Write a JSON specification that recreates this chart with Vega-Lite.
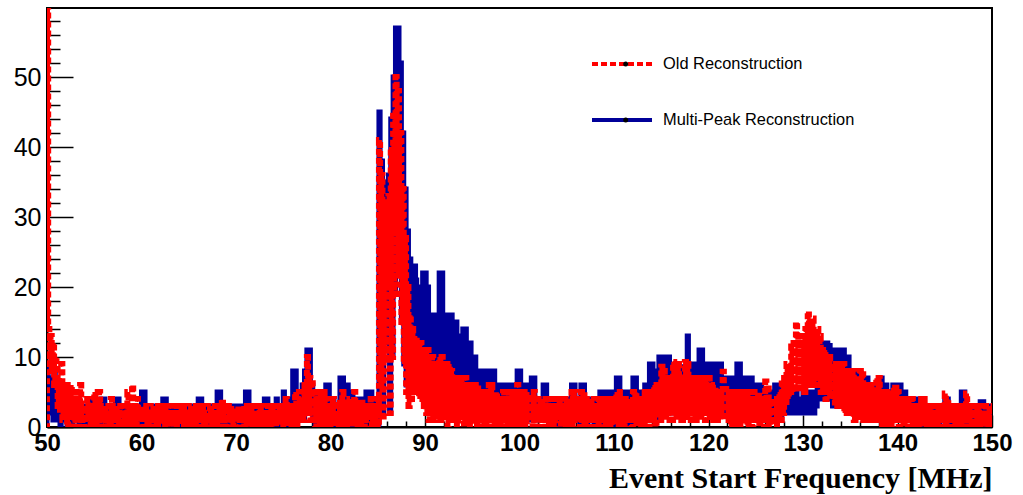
{
  "$schema": "https://vega.github.io/schema/vega-lite/v6.json",
  "width": 945,
  "height": 419,
  "autosize": {"type": "none"},
  "padding": {"left": 47, "top": 8, "right": 31, "bottom": 68},
  "background": "white",
  "config": {
    "view": {"stroke": "#000", "strokeWidth": 2},
    "axis": {"grid": false},
    "legend": {
      "orient": "none",
      "legendY": 36,
      "direction": "vertical",
      "labelFont": "Liberation Sans",
      "labelFontSize": 16.4,
      "labelColor": "#000",
      "labelLimit": 0,
      "rowPadding": 16,
      "clipHeight": 40,
      "padding": 0
    }
  },
  "data": {
    "values": [
      {"f":49.75,"m":0,"o":0},
      {"f":50,"m":9,"o":75},{"f":50.125,"m":4,"o":14},{"f":50.25,"m":7,"o":9},{"f":50.375,"m":2,"o":13},{"f":50.5,"m":6,"o":8},{"f":50.625,"m":1,"o":12},{"f":50.75,"m":8,"o":6},{"f":50.875,"m":3,"o":10},
      {"f":51,"m":5,"o":9},{"f":51.125,"m":1,"o":3},{"f":51.25,"m":6,"o":7},{"f":51.375,"m":0,"o":2},{"f":51.5,"m":4,"o":9},{"f":51.625,"m":2,"o":1},{"f":51.75,"m":5,"o":6},{"f":51.875,"m":1,"o":2},
      {"f":52,"m":4,"o":6},{"f":52.125,"m":0,"o":0},{"f":52.25,"m":5,"o":5},{"f":52.375,"m":1,"o":2},{"f":52.5,"m":3,"o":6},{"f":52.625,"m":0,"o":1},{"f":52.75,"m":4,"o":4},{"f":52.875,"m":1,"o":0},
      {"f":53,"m":3,"o":5},{"f":53.125,"m":1,"o":1},{"f":53.25,"m":4,"o":4},{"f":53.375,"m":0,"o":0},{"f":53.5,"m":3,"o":6},{"f":53.625,"m":1,"o":1},{"f":53.75,"m":3,"o":3},{"f":53.875,"m":0,"o":0},
      {"f":54,"m":3,"o":3},{"f":54.125,"m":0,"o":0},{"f":54.25,"m":2,"o":4},{"f":54.375,"m":1,"o":1},{"f":54.5,"m":4,"o":2},{"f":54.625,"m":0,"o":0},{"f":54.75,"m":3,"o":3},{"f":54.875,"m":1,"o":1},
      {"f":55,"m":2,"o":5},{"f":55.125,"m":0,"o":0},{"f":55.25,"m":3,"o":3},{"f":55.375,"m":1,"o":1},{"f":55.5,"m":2,"o":5},{"f":55.625,"m":0,"o":0},{"f":55.75,"m":4,"o":2},{"f":55.875,"m":1,"o":1},
      {"f":56,"m":4,"o":3},{"f":56.125,"m":1,"o":0},{"f":56.25,"m":3,"o":2},{"f":56.375,"m":0,"o":1},{"f":56.5,"m":3,"o":3},{"f":56.625,"m":1,"o":0},{"f":56.75,"m":2,"o":4},{"f":56.875,"m":0,"o":1},
      {"f":57,"m":3,"o":2},{"f":57.125,"m":0,"o":0},{"f":57.25,"m":4,"o":3},{"f":57.375,"m":1,"o":1},{"f":57.5,"m":4,"o":2},{"f":57.625,"m":0,"o":0},{"f":57.75,"m":3,"o":3},{"f":57.875,"m":1,"o":0},
      {"f":58,"m":3,"o":3},{"f":58.125,"m":0,"o":1},{"f":58.25,"m":2,"o":2},{"f":58.375,"m":1,"o":0},{"f":58.5,"m":3,"o":5},{"f":58.625,"m":0,"o":1},{"f":58.75,"m":3,"o":3},{"f":58.875,"m":1,"o":0},
      {"f":59,"m":3,"o":6},{"f":59.125,"m":1,"o":1},{"f":59.25,"m":2,"o":3},{"f":59.375,"m":0,"o":0},{"f":59.5,"m":3,"o":4},{"f":59.625,"m":1,"o":1},{"f":59.75,"m":2,"o":2},{"f":59.875,"m":0,"o":0},
      {"f":60,"m":5,"o":3},{"f":60.125,"m":1,"o":0},{"f":60.25,"m":5,"o":2},{"f":60.375,"m":0,"o":1},{"f":60.5,"m":3,"o":3},{"f":60.625,"m":1,"o":0},{"f":60.75,"m":3,"o":2},{"f":60.875,"m":0,"o":1},
      {"f":61,"m":3,"o":2},{"f":61.125,"m":0,"o":0},{"f":61.25,"m":3,"o":3},{"f":61.375,"m":1,"o":1},{"f":61.5,"m":2,"o":2},{"f":61.625,"m":0,"o":0},{"f":61.75,"m":3,"o":3},{"f":61.875,"m":1,"o":1},
      {"f":62,"m":2,"o":3},{"f":62.125,"m":0,"o":1},{"f":62.25,"m":4,"o":2},{"f":62.375,"m":1,"o":0},{"f":62.5,"m":4,"o":3},{"f":62.625,"m":0,"o":1},{"f":62.75,"m":3,"o":2},{"f":62.875,"m":1,"o":0},
      {"f":63,"m":3,"o":3},{"f":63.125,"m":1,"o":0},{"f":63.25,"m":2,"o":2},{"f":63.375,"m":0,"o":1},{"f":63.5,"m":3,"o":2},{"f":63.625,"m":1,"o":0},{"f":63.75,"m":3,"o":3},{"f":63.875,"m":0,"o":1},
      {"f":64,"m":2,"o":2},{"f":64.125,"m":0,"o":1},{"f":64.25,"m":3,"o":3},{"f":64.375,"m":1,"o":0},{"f":64.5,"m":3,"o":3},{"f":64.625,"m":0,"o":1},{"f":64.75,"m":2,"o":2},{"f":64.875,"m":1,"o":0},
      {"f":65,"m":3,"o":2},{"f":65.125,"m":1,"o":0},{"f":65.25,"m":3,"o":3},{"f":65.375,"m":0,"o":1},{"f":65.5,"m":3,"o":2},{"f":65.625,"m":1,"o":0},{"f":65.75,"m":3,"o":3},{"f":65.875,"m":0,"o":1},
      {"f":66,"m":4,"o":3},{"f":66.125,"m":1,"o":0},{"f":66.25,"m":4,"o":2},{"f":66.375,"m":0,"o":1},{"f":66.5,"m":3,"o":3},{"f":66.625,"m":1,"o":0},{"f":66.75,"m":2,"o":2},{"f":66.875,"m":0,"o":0},
      {"f":67,"m":3,"o":2},{"f":67.125,"m":0,"o":1},{"f":67.25,"m":3,"o":3},{"f":67.375,"m":1,"o":0},{"f":67.5,"m":3,"o":2},{"f":67.625,"m":0,"o":1},{"f":67.75,"m":3,"o":3},{"f":67.875,"m":1,"o":0},
      {"f":68,"m":5,"o":2},{"f":68.125,"m":1,"o":0},{"f":68.25,"m":5,"o":3},{"f":68.375,"m":0,"o":1},{"f":68.5,"m":3,"o":4},{"f":68.625,"m":1,"o":1},{"f":68.75,"m":2,"o":3},{"f":68.875,"m":0,"o":0},
      {"f":69,"m":3,"o":3},{"f":69.125,"m":0,"o":0},{"f":69.25,"m":3,"o":2},{"f":69.375,"m":1,"o":1},{"f":69.5,"m":2,"o":3},{"f":69.625,"m":0,"o":0},{"f":69.75,"m":3,"o":2},{"f":69.875,"m":1,"o":1},
      {"f":70,"m":3,"o":2},{"f":70.125,"m":1,"o":0},{"f":70.25,"m":3,"o":3},{"f":70.375,"m":0,"o":1},{"f":70.5,"m":3,"o":2},{"f":70.625,"m":1,"o":1},{"f":70.75,"m":2,"o":3},{"f":70.875,"m":0,"o":0},
      {"f":71,"m":5,"o":2},{"f":71.125,"m":1,"o":0},{"f":71.25,"m":5,"o":3},{"f":71.375,"m":0,"o":1},{"f":71.5,"m":3,"o":3},{"f":71.625,"m":1,"o":0},{"f":71.75,"m":3,"o":2},{"f":71.875,"m":0,"o":1},
      {"f":72,"m":3,"o":3},{"f":72.125,"m":0,"o":1},{"f":72.25,"m":3,"o":2},{"f":72.375,"m":1,"o":0},{"f":72.5,"m":2,"o":3},{"f":72.625,"m":0,"o":1},{"f":72.75,"m":3,"o":2},{"f":72.875,"m":1,"o":0},
      {"f":73,"m":4,"o":2},{"f":73.125,"m":1,"o":0},{"f":73.25,"m":4,"o":3},{"f":73.375,"m":0,"o":1},{"f":73.5,"m":3,"o":2},{"f":73.625,"m":1,"o":0},{"f":73.75,"m":3,"o":3},{"f":73.875,"m":0,"o":1},
      {"f":74,"m":3,"o":3},{"f":74.125,"m":0,"o":0},{"f":74.25,"m":4,"o":2},{"f":74.375,"m":1,"o":1},{"f":74.5,"m":3,"o":3},{"f":74.625,"m":0,"o":1},{"f":74.75,"m":3,"o":3},{"f":74.875,"m":1,"o":0},
      {"f":75,"m":5,"o":3},{"f":75.125,"m":1,"o":1},{"f":75.25,"m":4,"o":4},{"f":75.375,"m":0,"o":0},{"f":75.5,"m":3,"o":2},{"f":75.625,"m":1,"o":1},{"f":75.75,"m":4,"o":3},{"f":75.875,"m":0,"o":0},
      {"f":76,"m":8,"o":3},{"f":76.125,"m":1,"o":1},{"f":76.25,"m":8,"o":5},{"f":76.375,"m":2,"o":0},{"f":76.5,"m":4,"o":3},{"f":76.625,"m":1,"o":1},{"f":76.75,"m":5,"o":4},{"f":76.875,"m":1,"o":1},
      {"f":77,"m":6,"o":5},{"f":77.125,"m":1,"o":1},{"f":77.25,"m":8,"o":6},{"f":77.375,"m":2,"o":2},{"f":77.5,"m":11,"o":10},{"f":77.625,"m":3,"o":2},{"f":77.75,"m":11,"o":7},{"f":77.875,"m":2,"o":1},
      {"f":78,"m":6,"o":6.7},{"f":78.125,"m":1,"o":1},{"f":78.25,"m":5,"o":4},{"f":78.375,"m":0,"o":0},{"f":78.5,"m":5,"o":5},{"f":78.625,"m":1,"o":1},{"f":78.75,"m":3,"o":3},{"f":78.875,"m":0,"o":0},
      {"f":79,"m":4,"o":5},{"f":79.125,"m":0,"o":1},{"f":79.25,"m":4,"o":5},{"f":79.375,"m":1,"o":0},{"f":79.5,"m":6,"o":4},{"f":79.625,"m":1,"o":1},{"f":79.75,"m":6,"o":3},{"f":79.875,"m":0,"o":0},
      {"f":80,"m":3,"o":3},{"f":80.125,"m":1,"o":1},{"f":80.25,"m":4,"o":4},{"f":80.375,"m":0,"o":0},{"f":80.5,"m":3,"o":3},{"f":80.625,"m":0,"o":1},{"f":80.75,"m":3,"o":2},{"f":80.875,"m":1,"o":0},
      {"f":81,"m":7,"o":4},{"f":81.125,"m":1,"o":0},{"f":81.25,"m":7,"o":5},{"f":81.375,"m":0,"o":1},{"f":81.5,"m":6,"o":4},{"f":81.625,"m":1,"o":0},{"f":81.75,"m":6,"o":3},{"f":81.875,"m":0,"o":1},
      {"f":82,"m":4,"o":4},{"f":82.125,"m":1,"o":0},{"f":82.25,"m":5,"o":3},{"f":82.375,"m":0,"o":1},{"f":82.5,"m":3,"o":5},{"f":82.625,"m":1,"o":1},{"f":82.75,"m":4,"o":3},{"f":82.875,"m":0,"o":0},
      {"f":83,"m":4,"o":3},{"f":83.125,"m":0,"o":0},{"f":83.25,"m":3,"o":4},{"f":83.375,"m":1,"o":1},{"f":83.5,"m":4,"o":3},{"f":83.625,"m":0,"o":0},{"f":83.75,"m":5,"o":3},{"f":83.875,"m":1,"o":1},
      {"f":84,"m":5,"o":3},{"f":84.125,"m":1,"o":1},{"f":84.25,"m":5,"o":4},{"f":84.375,"m":0,"o":0},{"f":84.5,"m":4,"o":3},{"f":84.625,"m":1,"o":1},{"f":84.75,"m":3,"o":4},{"f":84.875,"m":3,"o":2},
      {"f":85,"m":0,"o":0},{"f":85.125,"m":45,"o":41},{"f":85.25,"m":8,"o":6},{"f":85.375,"m":38,"o":36},{"f":85.5,"m":2,"o":1},{"f":85.625,"m":35,"o":32},{"f":85.75,"m":12,"o":10},{"f":85.875,"m":30,"o":28},
      {"f":86,"m":22,"o":20},{"f":86.125,"m":36,"o":33},{"f":86.25,"m":2,"o":2},{"f":86.375,"m":44,"o":40},{"f":86.5,"m":10,"o":10},{"f":86.625,"m":50,"o":45},{"f":86.75,"m":19,"o":19},{"f":86.875,"m":57,"o":50},
      {"f":87,"m":28,"o":28},{"f":87.125,"m":57,"o":48},{"f":87.25,"m":22,"o":22},{"f":87.375,"m":52,"o":42},{"f":87.5,"m":15,"o":15},{"f":87.625,"m":42,"o":34},{"f":87.75,"m":9,"o":9},{"f":87.875,"m":34,"o":27},
      {"f":88,"m":6,"o":5},{"f":88.125,"m":28,"o":20},{"f":88.25,"m":6,"o":3},{"f":88.375,"m":24,"o":16},{"f":88.5,"m":7,"o":4},{"f":88.625,"m":23,"o":14},{"f":88.75,"m":8,"o":5},{"f":88.875,"m":23,"o":13},
      {"f":89,"m":21,"o":13},{"f":89.125,"m":8,"o":5},{"f":89.25,"m":20,"o":12},{"f":89.375,"m":6,"o":4},{"f":89.5,"m":20,"o":12},{"f":89.625,"m":9,"o":4},{"f":89.75,"m":22,"o":11},{"f":89.875,"m":7,"o":3},
      {"f":90,"m":22,"o":11},{"f":90.125,"m":7,"o":2},{"f":90.25,"m":20,"o":11},{"f":90.375,"m":5,"o":1},{"f":90.5,"m":16,"o":9},{"f":90.625,"m":6,"o":2},{"f":90.75,"m":16,"o":10},{"f":90.875,"m":4,"o":1},
      {"f":91,"m":16,"o":8},{"f":91.125,"m":5,"o":1},{"f":91.25,"m":16,"o":9},{"f":91.375,"m":4,"o":2},{"f":91.5,"m":22,"o":10},{"f":91.625,"m":6,"o":1},{"f":91.75,"m":22,"o":10},{"f":91.875,"m":5,"o":2},
      {"f":92,"m":16,"o":8},{"f":92.125,"m":4,"o":1},{"f":92.25,"m":16,"o":9},{"f":92.375,"m":3,"o":0},{"f":92.5,"m":14,"o":9},{"f":92.625,"m":4,"o":1},{"f":92.75,"m":16,"o":8},{"f":92.875,"m":5,"o":2},
      {"f":93,"m":15,"o":7},{"f":93.125,"m":4,"o":1},{"f":93.25,"m":15,"o":7},{"f":93.375,"m":3,"o":0},{"f":93.5,"m":13,"o":7},{"f":93.625,"m":4,"o":2},{"f":93.75,"m":13,"o":7},{"f":93.875,"m":3,"o":1},
      {"f":94,"m":14,"o":6},{"f":94.125,"m":3,"o":0},{"f":94.25,"m":14,"o":7},{"f":94.375,"m":2,"o":1},{"f":94.5,"m":12,"o":6},{"f":94.625,"m":3,"o":0},{"f":94.75,"m":12,"o":6},{"f":94.875,"m":2,"o":1},
      {"f":95,"m":10,"o":5},{"f":95.125,"m":3,"o":1},{"f":95.25,"m":10,"o":6},{"f":95.375,"m":2,"o":0},{"f":95.5,"m":8,"o":6},{"f":95.625,"m":3,"o":1},{"f":95.75,"m":8,"o":5},{"f":95.875,"m":2,"o":0},
      {"f":96,"m":8,"o":4},{"f":96.125,"m":2,"o":1},{"f":96.25,"m":8,"o":5},{"f":96.375,"m":1,"o":0},{"f":96.5,"m":8,"o":5},{"f":96.625,"m":3,"o":1},{"f":96.75,"m":8,"o":6},{"f":96.875,"m":2,"o":0},
      {"f":97,"m":8,"o":6},{"f":97.125,"m":2,"o":1},{"f":97.25,"m":8,"o":4},{"f":97.375,"m":1,"o":0},{"f":97.5,"m":6,"o":5},{"f":97.625,"m":2,"o":1},{"f":97.75,"m":6,"o":4},{"f":97.875,"m":1,"o":0},
      {"f":98,"m":6,"o":4},{"f":98.125,"m":1,"o":0},{"f":98.25,"m":6,"o":5},{"f":98.375,"m":2,"o":1},{"f":98.5,"m":6,"o":4},{"f":98.625,"m":1,"o":0},{"f":98.75,"m":6,"o":5},{"f":98.875,"m":2,"o":1},
      {"f":99,"m":6,"o":4},{"f":99.125,"m":2,"o":1},{"f":99.25,"m":6,"o":5},{"f":99.375,"m":1,"o":0},{"f":99.5,"m":6,"o":4},{"f":99.625,"m":2,"o":1},{"f":99.75,"m":8,"o":6},{"f":99.875,"m":1,"o":0},
      {"f":100,"m":8,"o":5},{"f":100.125,"m":2,"o":0},{"f":100.25,"m":6,"o":4},{"f":100.375,"m":1,"o":1},{"f":100.5,"m":6,"o":4},{"f":100.625,"m":2,"o":0},{"f":100.75,"m":6,"o":5},{"f":100.875,"m":1,"o":1},
      {"f":101,"m":6,"o":4},{"f":101.125,"m":2,"o":1},{"f":101.25,"m":7,"o":4},{"f":101.375,"m":1,"o":0},{"f":101.5,"m":7,"o":5},{"f":101.625,"m":2,"o":1},{"f":101.75,"m":4,"o":4},{"f":101.875,"m":1,"o":0},
      {"f":102,"m":4,"o":3},{"f":102.125,"m":1,"o":0},{"f":102.25,"m":4,"o":4},{"f":102.375,"m":2,"o":1},{"f":102.5,"m":6,"o":3},{"f":102.625,"m":1,"o":0},{"f":102.75,"m":6,"o":4},{"f":102.875,"m":1,"o":1},
      {"f":103,"m":4,"o":4},{"f":103.125,"m":1,"o":0},{"f":103.25,"m":4,"o":3},{"f":103.375,"m":0,"o":1},{"f":103.5,"m":4,"o":4},{"f":103.625,"m":1,"o":0},{"f":103.75,"m":4,"o":3},{"f":103.875,"m":2,"o":1},
      {"f":104,"m":4,"o":3},{"f":104.125,"m":0,"o":1},{"f":104.25,"m":4,"o":4},{"f":104.375,"m":1,"o":0},{"f":104.5,"m":4,"o":3},{"f":104.625,"m":1,"o":1},{"f":104.75,"m":4,"o":4},{"f":104.875,"m":0,"o":0},
      {"f":105,"m":4,"o":4},{"f":105.125,"m":1,"o":0},{"f":105.25,"m":4,"o":3},{"f":105.375,"m":0,"o":1},{"f":105.5,"m":6,"o":5},{"f":105.625,"m":1,"o":0},{"f":105.75,"m":6,"o":5},{"f":105.875,"m":2,"o":1},
      {"f":106,"m":4,"o":4},{"f":106.125,"m":1,"o":1},{"f":106.25,"m":4,"o":4},{"f":106.375,"m":0,"o":0},{"f":106.5,"m":6,"o":5},{"f":106.625,"m":1,"o":1},{"f":106.75,"m":6,"o":5},{"f":106.875,"m":1,"o":0},
      {"f":107,"m":4,"o":4},{"f":107.125,"m":0,"o":0},{"f":107.25,"m":4,"o":3},{"f":107.375,"m":1,"o":1},{"f":107.5,"m":4,"o":4},{"f":107.625,"m":1,"o":0},{"f":107.75,"m":4,"o":3},{"f":107.875,"m":0,"o":1},
      {"f":108,"m":4,"o":3},{"f":108.125,"m":1,"o":1},{"f":108.25,"m":4,"o":4},{"f":108.375,"m":0,"o":0},{"f":108.5,"m":5,"o":4},{"f":108.625,"m":1,"o":1},{"f":108.75,"m":5,"o":3},{"f":108.875,"m":0,"o":0},
      {"f":109,"m":5,"o":4},{"f":109.125,"m":1,"o":0},{"f":109.25,"m":5,"o":3},{"f":109.375,"m":0,"o":1},{"f":109.5,"m":5,"o":4},{"f":109.625,"m":1,"o":0},{"f":109.75,"m":5,"o":4},{"f":109.875,"m":1,"o":1},
      {"f":110,"m":5,"o":3},{"f":110.125,"m":0,"o":1},{"f":110.25,"m":7,"o":5},{"f":110.375,"m":1,"o":0},{"f":110.5,"m":7,"o":5},{"f":110.625,"m":2,"o":1},{"f":110.75,"m":5,"o":4},{"f":110.875,"m":1,"o":0},
      {"f":111,"m":5,"o":4},{"f":111.125,"m":1,"o":0},{"f":111.25,"m":5,"o":4},{"f":111.375,"m":0,"o":1},{"f":111.5,"m":5,"o":4},{"f":111.625,"m":1,"o":1},{"f":111.75,"m":5,"o":3},{"f":111.875,"m":0,"o":0},
      {"f":112,"m":7,"o":5},{"f":112.125,"m":1,"o":1},{"f":112.25,"m":7,"o":5},{"f":112.375,"m":2,"o":0},{"f":112.5,"m":5,"o":4},{"f":112.625,"m":1,"o":1},{"f":112.75,"m":5,"o":4},{"f":112.875,"m":0,"o":0},
      {"f":113,"m":5,"o":4},{"f":113.125,"m":1,"o":0},{"f":113.25,"m":6,"o":5},{"f":113.375,"m":2,"o":1},{"f":113.5,"m":6,"o":5},{"f":113.625,"m":1,"o":0},{"f":113.75,"m":9,"o":5},{"f":113.875,"m":2,"o":1},
      {"f":114,"m":9,"o":5},{"f":114.125,"m":2,"o":1},{"f":114.25,"m":6,"o":6},{"f":114.375,"m":1,"o":0},{"f":114.5,"m":8,"o":6},{"f":114.625,"m":2,"o":2},{"f":114.75,"m":10,"o":6},{"f":114.875,"m":3,"o":1},
      {"f":115,"m":10,"o":8.6},{"f":115.125,"m":2,"o":2},{"f":115.25,"m":10,"o":8},{"f":115.375,"m":3,"o":1},{"f":115.5,"m":10,"o":7},{"f":115.625,"m":2,"o":2},{"f":115.75,"m":10,"o":7},{"f":115.875,"m":3,"o":1},
      {"f":116,"m":8.6,"o":6},{"f":116.125,"m":2,"o":1},{"f":116.25,"m":8.6,"o":9.3},{"f":116.375,"m":3,"o":2},{"f":116.5,"m":8.6,"o":9},{"f":116.625,"m":2,"o":1},{"f":116.75,"m":8.6,"o":9},{"f":116.875,"m":3,"o":2},
      {"f":117,"m":8.6,"o":7},{"f":117.125,"m":2,"o":1},{"f":117.25,"m":8.6,"o":7},{"f":117.375,"m":3,"o":2},{"f":117.5,"m":8.6,"o":9.3},{"f":117.625,"m":2,"o":1},{"f":117.75,"m":13,"o":9},{"f":117.875,"m":3,"o":2},
      {"f":118,"m":9,"o":7},{"f":118.125,"m":2,"o":1},{"f":118.25,"m":9,"o":7},{"f":118.375,"m":3,"o":2},{"f":118.5,"m":9,"o":7},{"f":118.625,"m":2,"o":1},{"f":118.75,"m":9,"o":7},{"f":118.875,"m":3,"o":2},
      {"f":119,"m":11,"o":7},{"f":119.125,"m":2,"o":1},{"f":119.25,"m":11,"o":7},{"f":119.375,"m":3,"o":2},{"f":119.5,"m":9,"o":7},{"f":119.625,"m":2,"o":1},{"f":119.75,"m":9,"o":7},{"f":119.875,"m":3,"o":2},
      {"f":120,"m":9,"o":7},{"f":120.125,"m":2,"o":1},{"f":120.25,"m":9,"o":6},{"f":120.375,"m":3,"o":2},{"f":120.5,"m":9,"o":5},{"f":120.625,"m":2,"o":1},{"f":120.75,"m":9,"o":5.6},{"f":120.875,"m":2,"o":1},
      {"f":121,"m":9,"o":5},{"f":121.125,"m":2,"o":1},{"f":121.25,"m":9,"o":5},{"f":121.375,"m":2,"o":2},{"f":121.5,"m":7,"o":7.9},{"f":121.625,"m":3,"o":1},{"f":121.75,"m":7,"o":6},{"f":121.875,"m":2,"o":1},
      {"f":122,"m":7,"o":5},{"f":122.125,"m":2,"o":1},{"f":122.25,"m":7,"o":4},{"f":122.375,"m":1,"o":0},{"f":122.5,"m":7,"o":5},{"f":122.625,"m":2,"o":1},{"f":122.75,"m":7,"o":5},{"f":122.875,"m":1,"o":0},
      {"f":123,"m":9,"o":4},{"f":123.125,"m":2,"o":1},{"f":123.25,"m":9,"o":5},{"f":123.375,"m":1,"o":0},{"f":123.5,"m":7,"o":4},{"f":123.625,"m":2,"o":1},{"f":123.75,"m":7,"o":5},{"f":123.875,"m":1,"o":1},
      {"f":124,"m":7,"o":5},{"f":124.125,"m":2,"o":0},{"f":124.25,"m":7,"o":4},{"f":124.375,"m":1,"o":1},{"f":124.5,"m":7,"o":4},{"f":124.625,"m":2,"o":0},{"f":124.75,"m":6,"o":5},{"f":124.875,"m":1,"o":1},
      {"f":125,"m":6,"o":4},{"f":125.125,"m":1,"o":1},{"f":125.25,"m":6,"o":5},{"f":125.375,"m":2,"o":0},{"f":125.5,"m":6,"o":4},{"f":125.625,"m":1,"o":1},{"f":125.75,"m":5,"o":4},{"f":125.875,"m":2,"o":0},
      {"f":126,"m":5,"o":6.5},{"f":126.125,"m":1,"o":1},{"f":126.25,"m":5,"o":6},{"f":126.375,"m":2,"o":0},{"f":126.5,"m":5,"o":4},{"f":126.625,"m":1,"o":1},{"f":126.75,"m":5,"o":4},{"f":126.875,"m":2,"o":1},
      {"f":127,"m":6,"o":4},{"f":127.125,"m":1,"o":0},{"f":127.25,"m":6,"o":4},{"f":127.375,"m":2,"o":1},{"f":127.5,"m":6,"o":5},{"f":127.625,"m":1,"o":1},{"f":127.75,"m":5,"o":6.7},{"f":127.875,"m":2,"o":2},
      {"f":128,"m":4,"o":7},{"f":128.125,"m":2,"o":3},{"f":128.25,"m":4,"o":9},{"f":128.375,"m":2,"o":4},{"f":128.5,"m":4,"o":8},{"f":128.625,"m":2,"o":5},{"f":128.75,"m":5,"o":11.5},{"f":128.875,"m":2,"o":5},
      {"f":129,"m":5,"o":12},{"f":129.125,"m":2,"o":5},{"f":129.25,"m":5,"o":15},{"f":129.375,"m":2,"o":6},{"f":129.5,"m":4,"o":13},{"f":129.625,"m":2,"o":5},{"f":129.75,"m":4,"o":13},{"f":129.875,"m":2,"o":6},
      {"f":130,"m":5,"o":12},{"f":130.125,"m":2,"o":5},{"f":130.25,"m":5,"o":14},{"f":130.375,"m":2,"o":6},{"f":130.5,"m":5,"o":16.5},{"f":130.625,"m":2,"o":6},{"f":130.75,"m":5,"o":15},{"f":130.875,"m":2,"o":6},
      {"f":131,"m":5,"o":15.5},{"f":131.125,"m":2,"o":6},{"f":131.25,"m":5,"o":14},{"f":131.375,"m":3,"o":7},{"f":131.5,"m":12,"o":14},{"f":131.625,"m":4,"o":6},{"f":131.75,"m":12,"o":13},{"f":131.875,"m":4,"o":5},
      {"f":132,"m":12,"o":11},{"f":132.125,"m":4,"o":5},{"f":132.25,"m":12,"o":11},{"f":132.375,"m":5,"o":4},{"f":132.5,"m":12,"o":10},{"f":132.625,"m":4,"o":5},{"f":132.75,"m":12,"o":10},{"f":132.875,"m":4,"o":4},
      {"f":133,"m":11,"o":9},{"f":133.125,"m":3,"o":4},{"f":133.25,"m":11,"o":9},{"f":133.375,"m":4,"o":3},{"f":133.5,"m":11,"o":9},{"f":133.625,"m":3,"o":3},{"f":133.75,"m":11,"o":9},{"f":133.875,"m":4,"o":3},
      {"f":134,"m":11,"o":9},{"f":134.125,"m":3,"o":3},{"f":134.25,"m":11,"o":9},{"f":134.375,"m":3,"o":2},{"f":134.5,"m":10,"o":8},{"f":134.625,"m":2,"o":2},{"f":134.75,"m":10,"o":8},{"f":134.875,"m":2,"o":2},
      {"f":135,"m":8,"o":8},{"f":135.125,"m":3,"o":2},{"f":135.25,"m":8,"o":8},{"f":135.375,"m":2,"o":1},{"f":135.5,"m":8,"o":7},{"f":135.625,"m":3,"o":2},{"f":135.75,"m":8,"o":7},{"f":135.875,"m":2,"o":1},
      {"f":136,"m":7,"o":8},{"f":136.125,"m":3,"o":2},{"f":136.25,"m":7,"o":8},{"f":136.375,"m":2,"o":1},{"f":136.5,"m":7,"o":6},{"f":136.625,"m":1,"o":1},{"f":136.75,"m":7,"o":6},{"f":136.875,"m":2,"o":1},
      {"f":137,"m":6,"o":6},{"f":137.125,"m":2,"o":1},{"f":137.25,"m":6,"o":6},{"f":137.375,"m":1,"o":1},{"f":137.5,"m":6,"o":5},{"f":137.625,"m":2,"o":1},{"f":137.75,"m":6,"o":7},{"f":137.875,"m":1,"o":1},
      {"f":138,"m":7,"o":7},{"f":138.125,"m":2,"o":1},{"f":138.25,"m":7,"o":5},{"f":138.375,"m":1,"o":0},{"f":138.5,"m":6,"o":5},{"f":138.625,"m":2,"o":1},{"f":138.75,"m":6,"o":5},{"f":138.875,"m":1,"o":0},
      {"f":139,"m":5,"o":4},{"f":139.125,"m":2,"o":1},{"f":139.25,"m":5,"o":4},{"f":139.375,"m":1,"o":0},{"f":139.5,"m":6,"o":5.6},{"f":139.625,"m":2,"o":1},{"f":139.75,"m":6,"o":5.6},{"f":139.875,"m":1,"o":1},
      {"f":140,"m":6,"o":5},{"f":140.125,"m":2,"o":0},{"f":140.25,"m":6,"o":4},{"f":140.375,"m":1,"o":1},{"f":140.5,"m":5,"o":4},{"f":140.625,"m":2,"o":0},{"f":140.75,"m":5,"o":4},{"f":140.875,"m":1,"o":1},
      {"f":141,"m":4,"o":4},{"f":141.125,"m":1,"o":0},{"f":141.25,"m":4,"o":4},{"f":141.375,"m":2,"o":1},{"f":141.5,"m":4,"o":4},{"f":141.625,"m":1,"o":0},{"f":141.75,"m":4,"o":3},{"f":141.875,"m":2,"o":1},
      {"f":142,"m":4,"o":3},{"f":142.125,"m":1,"o":0},{"f":142.25,"m":4,"o":3},{"f":142.375,"m":0,"o":1},{"f":142.5,"m":3,"o":4},{"f":142.625,"m":1,"o":0},{"f":142.75,"m":3,"o":4},{"f":142.875,"m":1,"o":1},
      {"f":143,"m":3,"o":3},{"f":143.125,"m":1,"o":0},{"f":143.25,"m":3,"o":3},{"f":143.375,"m":0,"o":1},{"f":143.5,"m":3,"o":3},{"f":143.625,"m":1,"o":0},{"f":143.75,"m":3,"o":2},{"f":143.875,"m":0,"o":1},
      {"f":144,"m":3,"o":3},{"f":144.125,"m":1,"o":0},{"f":144.25,"m":3,"o":3},{"f":144.375,"m":0,"o":1},{"f":144.5,"m":3,"o":2},{"f":144.625,"m":1,"o":0},{"f":144.75,"m":3,"o":3},{"f":144.875,"m":1,"o":1},
      {"f":145,"m":4,"o":4.8},{"f":145.125,"m":1,"o":0},{"f":145.25,"m":4,"o":4},{"f":145.375,"m":0,"o":1},{"f":145.5,"m":3,"o":3},{"f":145.625,"m":1,"o":0},{"f":145.75,"m":3,"o":3},{"f":145.875,"m":0,"o":1},
      {"f":146,"m":3,"o":3},{"f":146.125,"m":1,"o":0},{"f":146.25,"m":3,"o":3},{"f":146.375,"m":0,"o":1},{"f":146.5,"m":3,"o":3},{"f":146.625,"m":1,"o":0},{"f":146.75,"m":5,"o":3},{"f":146.875,"m":0,"o":1},
      {"f":147,"m":5,"o":3},{"f":147.125,"m":1,"o":1},{"f":147.25,"m":3,"o":4.8},{"f":147.375,"m":0,"o":0},{"f":147.5,"m":3,"o":3},{"f":147.625,"m":1,"o":1},{"f":147.75,"m":3,"o":3},{"f":147.875,"m":0,"o":0},
      {"f":148,"m":3,"o":3},{"f":148.125,"m":1,"o":0},{"f":148.25,"m":3,"o":3},{"f":148.375,"m":0,"o":1},{"f":148.5,"m":3,"o":3},{"f":148.625,"m":1,"o":0},{"f":148.75,"m":3.6,"o":2},{"f":148.875,"m":1,"o":1},
      {"f":149,"m":3.6,"o":3},{"f":149.125,"m":1,"o":0},{"f":149.25,"m":3,"o":3},{"f":149.375,"m":0,"o":1},{"f":149.5,"m":3,"o":2},{"f":149.625,"m":1,"o":0},{"f":149.75,"m":2,"o":3},{"f":149.875,"m":0,"o":1},
      {"f":150,"m":0,"o":0}
    ]
  },
  "layer": [
    {
      "mark": {"type": "line", "interpolate": "step-after", "strokeWidth": 5, "clip": true},
      "encoding": {
        "x": {
          "field": "f", "type": "quantitative",
          "scale": {"domain": [50, 150], "nice": false, "zero": false},
          "axis": {
            "orient": "bottom",
            "values": [50, 60, 70, 80, 90, 100, 110, 120, 130, 140, 150],
            "ticks": false,
            "domainColor": "#000", "domainWidth": 2,
            "labelFont": "Liberation Sans", "labelFontWeight": "bold", "labelFontSize": 24,
            "labelColor": "#000", "labelPadding": 4, "labelFlush": false, "labelOverlap": false,
            "title": "Event Start Frequency [MHz]",
            "titleFont": "Liberation Serif", "titleFontWeight": "bold", "titleFontSize": 30,
            "titleColor": "#000", "titleAlign": "right", "titleBaseline": "alphabetic",
            "titleX": 945, "titleY": 60
          }
        },
        "y": {
          "field": "m", "type": "quantitative",
          "scale": {"domain": [0, 59.86], "nice": false},
          "axis": {
            "orient": "left",
            "values": [0, 10, 20, 30, 40, 50],
            "ticks": false,
            "domainColor": "#000", "domainWidth": 2,
            "labelFont": "Liberation Sans", "labelFontSize": 25, "labelColor": "#000",
            "labelPadding": 6, "labelFlush": false, "labelOverlap": false,
            "title": null
          }
        },
        "color": {
          "datum": "Multi-Peak Reconstruction",
          "scale": {"domain": ["Old Reconstruction", "Multi-Peak Reconstruction"], "range": ["#ff0000", "#000099"]},
          "legend": {"title": null, "legendX": 543, "symbolType": "stroke", "symbolSize": 3600, "symbolStrokeWidth": 4, "labelOffset": 9}
        },
        "strokeDash": {
          "datum": "Multi-Peak Reconstruction",
          "scale": {"domain": ["Old Reconstruction", "Multi-Peak Reconstruction"], "range": [[6, 3], [1, 0]]},
          "legend": {"title": null, "legendX": 543, "symbolType": "stroke", "symbolSize": 3600, "symbolStrokeWidth": 4, "labelOffset": 9}
        }
      }
    },
    {
      "mark": {"type": "line", "interpolate": "step-after", "strokeWidth": 6, "clip": true},
      "encoding": {
        "x": {
          "field": "f", "type": "quantitative",
          "scale": {"domain": [50, 150], "nice": false, "zero": false},
          "axis": {
            "orient": "bottom",
            "values": [50,52,54,56,58,60,62,64,66,68,70,72,74,76,78,80,82,84,86,88,90,92,94,96,98,100,102,104,106,108,110,112,114,116,118,120,122,124,126,128,130,132,134,136,138,140,142,144,146,148,150],
            "labels": false, "domain": false,
            "tickColor": "#000", "tickWidth": 1.5,
            "tickSize": {"condition": {"test": "datum.value % 10 === 0", "value": -12}, "value": -6},
            "title": null
          }
        },
        "y": {
          "field": "o", "type": "quantitative",
          "scale": {"domain": [0, 59.86], "nice": false},
          "axis": {
            "orient": "left",
            "values": [0,2,4,6,8,10,12,14,16,18,20,22,24,26,28,30,32,34,36,38,40,42,44,46,48,50,52,54,56,58],
            "labels": false, "domain": false,
            "tickColor": "#000", "tickWidth": 1.5,
            "tickSize": {"condition": {"test": "datum.value % 10 === 0", "value": -26}, "value": -13},
            "title": null
          }
        },
        "color": {
          "datum": "Old Reconstruction",
          "scale": {"domain": ["Old Reconstruction", "Multi-Peak Reconstruction"], "range": ["#ff0000", "#000099"]},
          "legend": {"title": null, "legendX": 543, "symbolType": "stroke", "symbolSize": 3600, "symbolStrokeWidth": 4, "labelOffset": 9}
        },
        "strokeDash": {
          "datum": "Old Reconstruction",
          "scale": {"domain": ["Old Reconstruction", "Multi-Peak Reconstruction"], "range": [[6, 3], [1, 0]]},
          "legend": {"title": null, "legendX": 543, "symbolType": "stroke", "symbolSize": 3600, "symbolStrokeWidth": 4, "labelOffset": 9}
        }
      }
    },
    {
      "data": {"values": []},
      "mark": {"type": "point", "filled": true, "color": "#000", "opacity": 1, "size": 25},
      "encoding": {
        "shape": {
          "field": "marker", "type": "nominal",
          "scale": {"domain": ["old marker", "multi-peak marker"], "range": ["circle", "circle"]},
          "legend": {
            "title": null, "legendX": 570.5, "symbolType": "circle", "symbolSize": 25,
            "symbolFillColor": "#000", "symbolStrokeColor": "#000", "symbolStrokeWidth": 0, "symbolOpacity": 1,
            "labelExpr": "''", "labelOffset": 0
          }
        }
      }
    }
  ],
  "resolve": {"axis": {"x": "independent", "y": "independent"}}
}
